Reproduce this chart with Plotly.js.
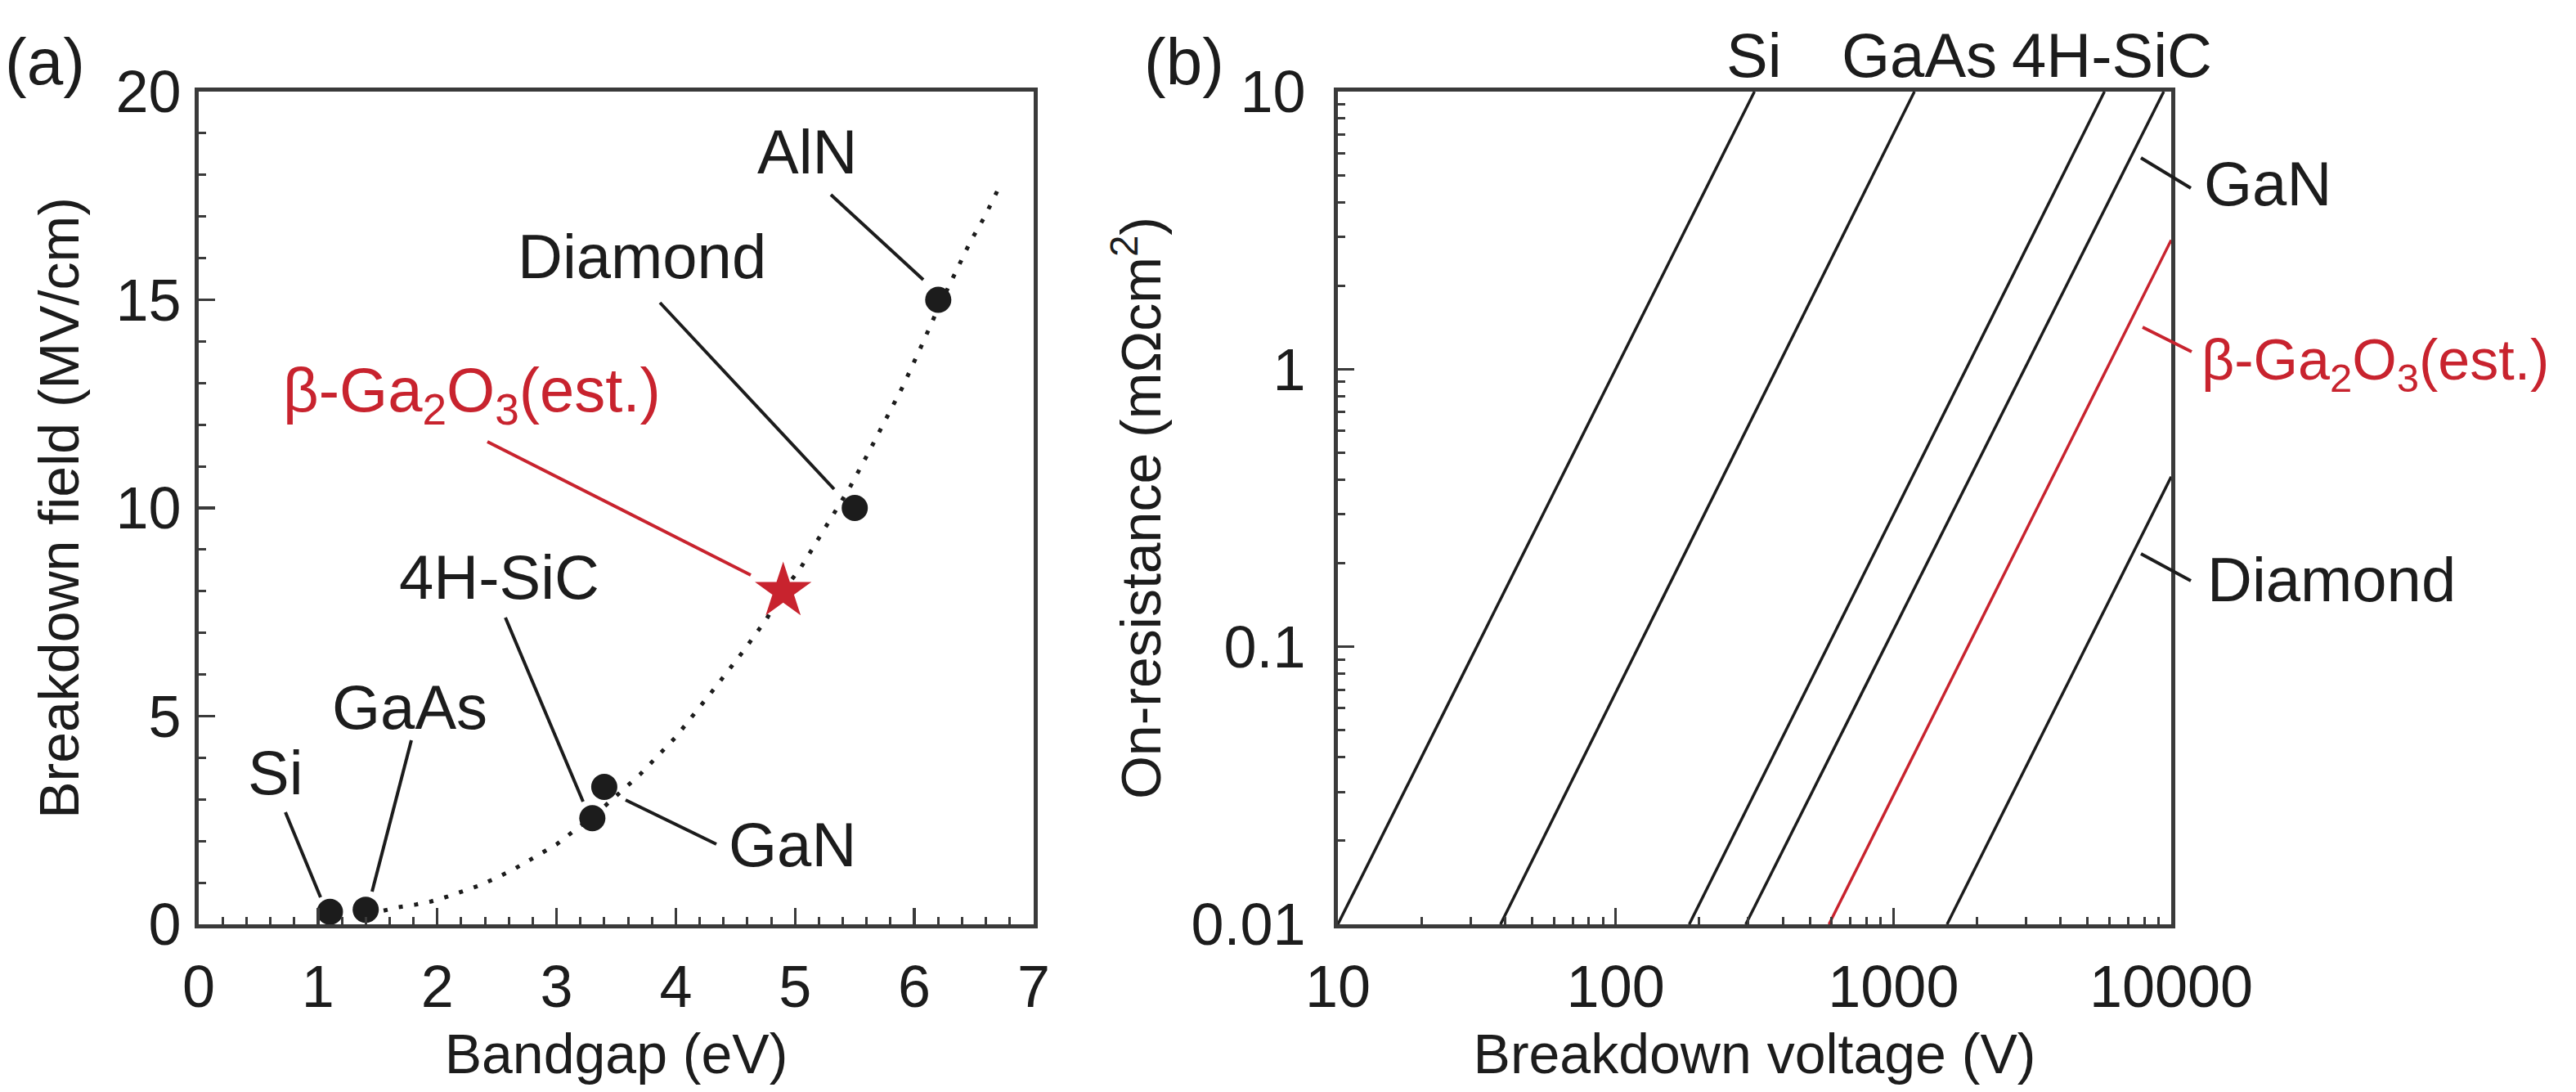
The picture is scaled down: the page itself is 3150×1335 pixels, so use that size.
<!DOCTYPE html>
<html>
<head>
<meta charset="utf-8">
<script src="https://cdn.plot.ly/plotly-3.0.1.min.js"></script>
<style>html,body{margin:0;padding:0;background:#fff;}#chart{width:3150px;height:1335px;}</style>
</head>
<body>
<div id="chart"></div>
<script>
// ---------- Panel (a): breakdown field vs bandgap ----------
const materials = ['Si', 'GaAs', '4H-SiC', 'GaN', 'Diamond', 'AlN'];
const bandgap = [1.1, 1.4, 3.3, 3.4, 5.5, 6.2];          // eV
const breakdownField = [0.3, 0.35, 2.55, 3.3, 10.0, 15.0]; // MV/cm
const ga2o3Bandgap = [4.9];
const ga2o3Field = [8.0];
// dotted trend curve
const trendBandgap = [1.55, 1.67, 1.81, 1.95, 2.09, 2.22, 2.36, 2.50, 2.64, 3.0, 3.35, 3.7, 4.0, 4.35, 4.56, 4.76, 4.90, 5.04, 5.21, 5.29, 5.46, 5.61, 5.9, 6.06, 6.2, 6.47, 6.59, 6.71];
const trendField   = [0.33, 0.41, 0.47, 0.55, 0.67, 0.81, 0.94, 1.12, 1.32, 1.92, 2.7, 3.6, 4.5, 5.76, 6.54, 7.33, 8.02, 8.53, 9.31, 9.71, 10.5, 11.3, 12.9, 13.9, 14.8, 16.4, 17.0, 17.7];

// ---------- Panel (b): on-resistance vs breakdown voltage (end points of each limit line) ----------
const siV = [10, 316],       siR = [0.01, 10];
const gaasV = [38.5, 1190],  gaasR = [0.01, 10];
const sicV = [184, 5750],    sicR = [0.01, 10];
const ganV = [294, 9400],    ganR = [0.01, 10];
const ga2o3V = [586, 10000], ga2o3R = [0.01, 2.92];
const diamondV = [1560, 10000], diamondR = [0.01, 0.41];

const xTicksB = [10, 100, 1000, 10000];
const xTickTextB = ['10', '100', '1000', '10000'];
const yTicksB = [0.01, 0.1, 1, 10];
const yTickTextB = ['0.01', '0.1', '1', '10'];

// ---------- styling ----------
const W = 3150, H = 1335;
const FONT = 'Liberation Sans, Arial, sans-serif';
const BLACK = '#1c1c1c';
const AXIS = '#3a3a3a';
const RED = '#c8232e';
const px = v => v / W;
const py = v => 1 - v / H;

const traces = [
  {x: trendBandgap, y: trendField, mode: 'lines', xaxis: 'x', yaxis: 'y',
   line: {color: BLACK, width: 5, dash: '5px,14px'}, hoverinfo: 'skip'},
  {x: bandgap, y: breakdownField, mode: 'markers', xaxis: 'x', yaxis: 'y', text: materials,
   marker: {color: BLACK, size: 32}, cliponaxis: false},
  {x: ga2o3Bandgap, y: ga2o3Field, mode: 'markers', xaxis: 'x', yaxis: 'y',
   marker: {color: RED, size: 52, symbol: 'star'}, cliponaxis: false},
  {x: siV, y: siR, mode: 'lines', xaxis: 'x2', yaxis: 'y2', name: 'Si', line: {color: BLACK, width: 3.5}},
  {x: gaasV, y: gaasR, mode: 'lines', xaxis: 'x2', yaxis: 'y2', name: 'GaAs', line: {color: BLACK, width: 3.5}},
  {x: sicV, y: sicR, mode: 'lines', xaxis: 'x2', yaxis: 'y2', name: '4H-SiC', line: {color: BLACK, width: 3.5}},
  {x: ganV, y: ganR, mode: 'lines', xaxis: 'x2', yaxis: 'y2', name: 'GaN', line: {color: BLACK, width: 3.5}},
  {x: ga2o3V, y: ga2o3R, mode: 'lines', xaxis: 'x2', yaxis: 'y2', name: 'β-Ga2O3', line: {color: RED, width: 3.5}},
  {x: diamondV, y: diamondR, mode: 'lines', xaxis: 'x2', yaxis: 'y2', name: 'Diamond', line: {color: BLACK, width: 3.5}}
];

const axisCommon = {
  showline: true, linecolor: AXIS, linewidth: 5, mirror: true,
  ticks: 'inside', ticklen: 20, tickwidth: 3.5, tickcolor: AXIS,
  showgrid: false, zeroline: false,
  tickfont: {family: FONT, size: 72, color: BLACK},
  fixedrange: true
};
const titleFont = {family: FONT, size: 68, color: BLACK};
const yDom = [1 - 1130 / H, 1 - 112 / H];

const layout = {
  width: W, height: H,
  margin: {l: 0, r: 0, t: 0, b: 0},
  paper_bgcolor: '#fff', plot_bgcolor: '#fff',
  showlegend: false,
  font: {family: FONT, color: BLACK, size: 40},
  xaxis: Object.assign({}, axisCommon, {
    domain: [243 / W, 1264 / W], range: [0, 7], dtick: 1, anchor: 'y',
    minor: {dtick: 0.2, ticks: 'inside', ticklen: 9, tickwidth: 3, tickcolor: AXIS},
    ticklabelstandoff: 10,
    title: {text: 'Bandgap (eV)', font: titleFont, standoff: 20}
  }),
  yaxis: Object.assign({}, axisCommon, {
    domain: yDom, range: [0, 20], dtick: 5, anchor: 'x',
    minor: {dtick: 1, ticks: 'inside', ticklen: 9, tickwidth: 3, tickcolor: AXIS},
    ticklabelstandoff: 2,
    title: {text: 'Breakdown field (MV/cm)', font: titleFont, standoff: 24}
  }),
  xaxis2: Object.assign({}, axisCommon, {
    domain: [1636 / W, 2655 / W], type: 'log', range: [1, 4], anchor: 'y2',
    tickmode: 'array', tickvals: xTicksB, ticktext: xTickTextB,
    minor: {dtick: 'D1', ticks: 'inside', ticklen: 9, tickwidth: 3, tickcolor: AXIS},
    ticklabelstandoff: 10,
    title: {text: 'Breakdown voltage (V)', font: titleFont, standoff: 20}
  }),
  yaxis2: Object.assign({}, axisCommon, {
    domain: yDom, type: 'log', range: [-2, 1], anchor: 'x2',
    tickmode: 'array', tickvals: yTicksB, ticktext: yTickTextB,
    minor: {dtick: 'D1', ticks: 'inside', ticklen: 9, tickwidth: 3, tickcolor: AXIS},
    ticklabelstandoff: 20,
    title: {text: 'On-resistance (mΩcm<sup>2</sup>)', font: titleFont, standoff: 16}
  }),
  shapes: [],
  annotations: []
};

// leader lines (pixel positions of the label connectors)
const leaders = [
  [349, 993, 392, 1097, BLACK], [503, 905, 455, 1090, BLACK], [618, 755, 713, 980, BLACK],
  [765, 978, 876, 1032, BLACK], [807, 370, 1020, 598, BLACK], [1016, 238, 1129, 342, BLACK],
  [596, 540, 918, 703, RED],
  [2618, 193, 2679, 230, BLACK], [2620, 400, 2680, 430, RED], [2618, 677, 2679, 710, BLACK]
];
leaders.forEach(l => layout.shapes.push({
  type: 'line', xref: 'paper', yref: 'paper', layer: 'above',
  x0: px(l[0]), y0: py(l[1]), x1: px(l[2]), y1: py(l[3]),
  line: {color: l[4], width: 4}
}));

// labels: [text, x, y, xanchor, color, size]
const labels = [
  ['(a)', 55, 75, 'center', BLACK, 80],
  ['(b)', 1448, 75, 'center', BLACK, 80],
  ['Si', 337, 944, 'center', BLACK, 76],
  ['GaAs', 501, 864, 'center', BLACK, 76],
  ['4H-SiC', 610, 705, 'center', BLACK, 76],
  ['GaN', 969, 1032, 'center', BLACK, 76],
  ['Diamond', 785, 313, 'center', BLACK, 76],
  ['AlN', 987, 186, 'center', BLACK, 76],
  ['β-Ga<sub>2</sub>O<sub>3</sub>(est.)', 344, 482, 'left', RED, 76],
  ['Si', 2145, 67, 'center', BLACK, 76],
  ['GaAs', 2347, 67, 'center', BLACK, 76],
  ['4H-SiC', 2582, 67, 'center', BLACK, 76],
  ['GaN', 2693, 225, 'left', BLACK, 76],
  ['β-Ga<sub>2</sub>O<sub>3</sub>(est.)', 2690, 445, 'left', RED, 70],
  ['Diamond', 2697, 708, 'left', BLACK, 76]
];
labels.forEach(a => layout.annotations.push({
  text: a[0], xref: 'paper', yref: 'paper', x: px(a[1]), y: py(a[2]),
  xanchor: a[3], yanchor: 'middle', showarrow: false,
  font: {family: FONT, size: a[5], color: a[4]}
}));

Plotly.newPlot('chart', traces, layout, {displayModeBar: false, staticPlot: true});
</script>
</body>
</html>
